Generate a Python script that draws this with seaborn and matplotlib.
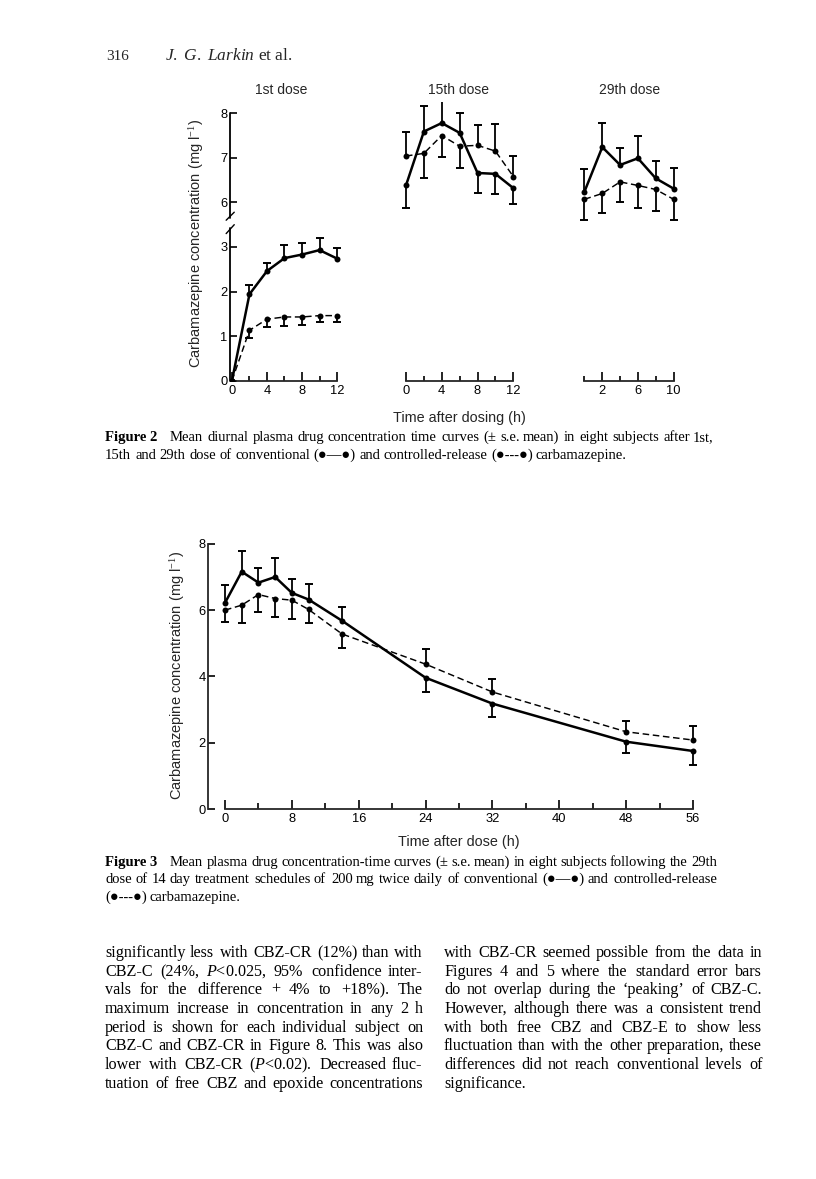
import numpy as np
import pandas as pd
import matplotlib
matplotlib.use("Agg")
import matplotlib.pyplot as plt
import matplotlib.transforms as mtransforms
import seaborn as sns

# ---------------- data (read from the scanned page) ----------------
# Figure 2, 1st dose
t_d1 = [0, 2, 4, 6, 8, 10, 12]
conv_d1 = [0.0, 1.94, 2.46, 2.75, 2.83, 2.93, 2.74]
conv_se_d1 = [0.0, 0.20, 0.19, 0.29, 0.25, 0.27, 0.24]
cr_d1 = [0.0, 1.13, 1.38, 1.43, 1.43, 1.46, 1.46]
cr_se_d1 = [0.0, 0.17, 0.17, 0.21, 0.18, 0.14, 0.15]

# Figure 2, 15th dose
t_d15 = [0, 2, 4, 6, 8, 10, 12]
conv_d15 = [6.38, 7.59, 7.78, 7.56, 6.66, 6.64, 6.32]
conv_se_d15 = [0.51, 0.57, 0.51, 0.45, 0.46, 0.46, 0.36]
cr_d15 = [7.04, 7.10, 7.50, 7.26, 7.28, 7.15, 6.58]
cr_se_d15 = [0.54, 0.55, 0.49, 0.49, 0.45, 0.61, 0.46]

# Figure 2, 29th dose
t_d29 = [0, 2, 4, 6, 8, 10]
conv_d29 = [6.24, 7.24, 6.84, 6.99, 6.54, 6.31]
conv_se_d29 = [0.52, 0.54, 0.39, 0.49, 0.39, 0.46]
cr_d29 = [6.07, 6.20, 6.46, 6.38, 6.29, 6.07]
cr_se_d29 = [0.46, 0.44, 0.46, 0.51, 0.48, 0.46]

# Figure 3, after 29th dose, 0-56 h
t_f3 = [0, 2, 4, 6, 8, 10, 14, 24, 32, 48, 56]
conv_f3 = [6.22, 7.16, 6.83, 7.00, 6.52, 6.32, 5.68, 3.96, 3.18, 2.03, 1.75]
conv_se_f3 = [0.53, 0.63, 0.43, 0.56, 0.43, 0.46, 0.42, 0.44, 0.40, 0.33, 0.42]
cr_f3 = [6.00, 6.15, 6.47, 6.35, 6.30, 6.02, 5.28, 4.37, 3.53, 2.33, 2.08]
cr_se_f3 = [0.37, 0.55, 0.54, 0.55, 0.57, 0.42, 0.41, 0.45, 0.39, 0.32, 0.42]

prep_names = ["Conventional", "Controlled-release"]

fig2_titles = ["1st dose", "15th dose", "29th dose"]
fig2_xticks_major = [[0, 4, 8, 12], [0, 4, 8, 12], [2, 6, 10]]
fig2_xticks_minor = [[2, 6, 10], [2, 6, 10], [0, 4, 8]]
fig2_yticks = [0, 1, 2, 3, 6, 7, 8]
fig3_xticks_major = [0, 8, 16, 24, 32, 40, 48, 56]
fig3_xticks_minor = [4, 12, 20, 28, 36, 44, 52]
fig3_yticks = [0, 2, 4, 6, 8]

ylabel = "Carbamazepine concentration (mg l$^{-1}$)"
xlabel2 = "Time after dosing (h)"
xlabel3 = "Time after dose (h)"

header_num = "316"
header_auth = r"$\mathit{J.\ G.\ Larkin}$ et al."

cap2_label = "Figure 2"
cap2 = ["Mean diurnal plasma drug concentration time curves (± s.e. mean) in eight subjects after 1st,",
        "15th and 29th dose of conventional (●—●) and controlled-release (●---●) carbamazepine."]
cap3_label = "Figure 3"
cap3 = ["Mean plasma drug concentration-time curves (± s.e. mean) in eight subjects following the 29th",
        "dose of 14 day treatment schedules of 200 mg twice daily of conventional (●—●) and controlled-release",
        "(●---●) carbamazepine."]
body_left = ["significantly less with CBZ-CR (12%) than with",
             r"CBZ-C (24%, $\mathit{P}$<0.025, 95% confidence inter-",
             "vals for the difference + 4% to +18%). The",
             "maximum increase in concentration in any 2 h",
             "period is shown for each individual subject on",
             "CBZ-C and CBZ-CR in Figure 8. This was also",
             r"lower with CBZ-CR ($\mathit{P}$<0.02). Decreased fluc-",
             "tuation of free CBZ and epoxide concentrations"]
body_right = ["with CBZ-CR seemed possible from the data in",
              "Figures 4 and 5 where the standard error bars",
              "do not overlap during the ‘peaking’ of CBZ-C.",
              "However, although there was a consistent trend",
              "with both free CBZ and CBZ-E to show less",
              "fluctuation than with the other preparation, these",
              "differences did not reach conventional levels of",
              "significance."]

# ---------------- style ----------------
sns.set_theme(style="ticks")
plt.rcParams["font.family"] = ["Liberation Sans", "DejaVu Sans"]
plt.rcParams["mathtext.fontset"] = "custom"
plt.rcParams["mathtext.rm"] = "Liberation Serif"
plt.rcParams["mathtext.it"] = "Liberation Serif:italic"
plt.rcParams["mathtext.bf"] = "Liberation Serif:bold"
plt.rcParams["mathtext.sf"] = "Liberation Sans"

W, H = 816, 1179
fig = plt.figure(figsize=(W / 100, H / 100), dpi=100)
fig.patch.set_facecolor("white")


def add_axes_px(left, right, top, bottom):
    return fig.add_axes([left / W, 1 - bottom / H, (right - left) / W, (bottom - top) / H])


# broken y scale: 0-3.5 linear, 5.6+ shifted down by 2
def fwd(y):
    y = np.asarray(y, dtype=float)
    return np.where(y <= 3.5, y, np.where(y >= 5.6, y - 2.0, 3.5 + (y - 3.5) * (0.1 / 2.1)))


def inv(z):
    z = np.asarray(z, dtype=float)
    return np.where(z <= 3.5, z, np.where(z >= 3.6, z + 2.0, 3.5 + (z - 3.5) * 21.0))


LW_SOLID = 1.8
LW_DASH = 1.05
MS = 4.3


def draw_series(ax, t, conv, conv_se, cr, cr_se):
    t = np.asarray(t, float)
    conv = np.asarray(conv, float)
    cr = np.asarray(cr, float)
    conv_se = np.asarray(conv_se, float)
    cr_se = np.asarray(cr_se, float)
    n = len(t)
    df = pd.DataFrame({
        "t": np.concatenate([t, t]),
        "c": np.concatenate([conv, cr]),
        "prep": [prep_names[0]] * n + [prep_names[1]] * n,
    })
    sns.lineplot(data=df, x="t", y="c", style="prep", size="prep",
                 sizes={prep_names[0]: LW_SOLID, prep_names[1]: LW_DASH},
                 dashes={prep_names[0]: "", prep_names[1]: (4.5, 2.5)},
                 markers={prep_names[0]: "o", prep_names[1]: "o"},
                 markersize=MS, markeredgewidth=0, color="black",
                 legend=False, ax=ax, zorder=3, sort=False, estimator=None)
    # one-sided s.e. bars, pointing away from the other preparation
    conv_dir = np.where(conv >= cr, 1.0, -1.0)
    cr_dir = -conv_dir
    for mean, se, d in ((conv, conv_se, conv_dir), (cr, cr_se, cr_dir)):
        m = se > 0
        tips = mean + d * se
        ax.vlines(t[m], mean[m], tips[m], color="black", lw=1.3, zorder=2)
        ax.plot(t[m], tips[m], ls="none", marker="_", ms=5.6, mew=1.4,
                color="black", zorder=2)


tick_kw = dict(direction="in", color="black", labelcolor="black", labelsize=9.3)
LABEL_FS = 10.5

# ---------------- Figure 2 ----------------
panels = [
    dict(left=230.2, right=345.8, xlim=(-0.2, 13), data=(t_d1, conv_d1, conv_se_d1, cr_d1, cr_se_d1),
         xb=(0, 12)),
    dict(left=401.5, right=517.8, xlim=(-0.5, 12.5), data=(t_d15, conv_d15, conv_se_d15, cr_d15, cr_se_d15),
         xb=(0, 12)),
    dict(left=580.0, right=678.0, xlim=(-0.5, 10.5), data=(t_d29, conv_d29, conv_se_d29, cr_d29, cr_se_d29),
         xb=(0, 10)),
]
TOP2, BOT2 = 102.1, 380.7
for i, p in enumerate(panels):
    ax = add_axes_px(p["left"], p["right"], TOP2, BOT2)
    ax.set_facecolor("none")
    ax.set_yscale("function", functions=(fwd, inv))
    draw_series(ax, *p["data"])
    ax.set_xlim(*p["xlim"])
    ax.set_ylim(0, 8.25)
    ax.set_xlabel("")
    ax.set_ylabel("")
    for s in ("top", "right", "left"):
        ax.spines[s].set_visible(False)
    ax.spines["bottom"].set_bounds(*p["xb"])
    ax.spines["bottom"].set_linewidth(1.3)
    ax.set_xticks(fig2_xticks_major[i])
    ax.set_xticks(fig2_xticks_minor[i], minor=True)
    ax.tick_params(axis="x", which="major", length=6.5, width=1.2, pad=3, **tick_kw)
    ax.tick_params(axis="x", which="minor", length=3.5, width=1.2, **tick_kw)
    ax.yaxis.set_minor_locator(matplotlib.ticker.NullLocator())
    if i == 0:
        ax.set_yticks(fig2_yticks)
        ax.set_yticklabels([str(v) for v in fig2_yticks])
        ax.tick_params(axis="y", which="major", length=5, width=1.2, pad=2, **tick_kw)
        # left axis drawn in two pieces with a break
        yt = ax.get_yaxis_transform()
        ax.plot([0, 0], [0, 3.42], color="black", lw=1.3, transform=yt, clip_on=False)
        ax.plot([0, 0], [5.66, 8.0], color="black", lw=1.3, transform=yt, clip_on=False)
        ax.plot([-0.035, 0.035], [3.30, 3.50], color="black", lw=1.0, transform=yt, clip_on=False)
        ax.plot([-0.035, 0.035], [5.60, 5.78], color="black", lw=1.0, transform=yt, clip_on=False)
    else:
        ax.set_yticks([])

for x, txt in zip([281, 459, 630], fig2_titles):
    fig.text(x / W, 1 - 90 / H, txt, ha="center", va="center", fontsize=10)

fig.text(197 / W, 1 - 243 / H, ylabel, rotation=90, ha="center", va="center", fontsize=LABEL_FS)
fig.text(459 / W, 1 - 418 / H, xlabel2, ha="center", va="center", fontsize=10.4)

# ---------------- Figure 3 ----------------
ax3 = add_axes_px(208.3, 701.4, 533.9, 809.0)
ax3.set_facecolor("none")
draw_series(ax3, t_f3, conv_f3, conv_se_f3, cr_f3, cr_se_f3)
ax3.set_xlim(-2, 57)
ax3.set_ylim(0, 8.3)
ax3.set_xlabel("")
ax3.set_ylabel("")
for s in ("top", "right"):
    ax3.spines[s].set_visible(False)
ax3.spines["bottom"].set_bounds(0, 56)
ax3.spines["left"].set_bounds(0, 8)
ax3.spines["bottom"].set_linewidth(1.3)
ax3.spines["left"].set_linewidth(1.3)
ax3.set_xticks(fig3_xticks_major)
ax3.set_xticks(fig3_xticks_minor, minor=True)
ax3.set_yticks(fig3_yticks)
ax3.tick_params(axis="x", which="major", length=6.5, width=1.2, pad=3, **tick_kw)
ax3.tick_params(axis="x", which="minor", length=4.0, width=1.2, **tick_kw)
ax3.tick_params(axis="y", which="major", length=5, width=1.2, pad=2, **tick_kw)

fig.text(178 / W, 1 - 675 / H, ylabel, rotation=90, ha="center", va="center", fontsize=LABEL_FS)
fig.text(459 / W, 1 - 842 / H, xlabel3, ha="center", va="center", fontsize=10.4)

# ---------------- page text ----------------
renderer = fig.canvas.get_renderer()
SERIF = ["Liberation Serif", "DejaVu Sans"]
ident = mtransforms.IdentityTransform()


def make_word(w, size, weight="normal"):
    t = fig.text(0, 0, w, fontsize=size, family=SERIF, transform=ident,
                 ha="left", va="baseline", color="black", fontweight=weight)
    return t, t.get_window_extent(renderer).width


def place_line(line, x0, x1, y_base, size, justify, label=None):
    yd = round(H - y_base)
    x = x0
    if label is not None:
        t, wdt = make_word(label, size, "bold")
        t.set_position((x, yd))
        x += wdt + 0.9 * size * 100 / 72
    words = [w for w in line.split(" ") if w != ""]
    pairs = [make_word(w, size) for w in words]
    total = sum(p[1] for p in pairs)
    space = 0.25 * size * 100 / 72
    if justify and len(words) > 1:
        gap = (x1 - x - total) / (len(words) - 1)
    else:
        gap = space
    for t, wdt in pairs:
        t.set_position((round(x), yd))
        x += wdt + gap


def place_block(lines, x0, x1, y0, lead, size, last_justified=False, label=None):
    for k, ln in enumerate(lines):
        just = (k < len(lines) - 1) or last_justified
        place_line(ln, x0, x1, y0 + k * lead, size, just, label if k == 0 else None)


fig.text(106, H - 60, header_num, transform=ident, fontsize=11, family=SERIF, va="baseline")
fig.text(165, H - 60, header_auth, transform=ident, fontsize=12.5, family=SERIF, va="baseline")

place_block(cap2, 105, 714, 441, 18, 10.5, label=cap2_label)
place_block(cap3, 105, 717, 866, 17.5, 10.5, label=cap3_label)
place_block(body_left, 105, 423, 957, 18.65, 11.6, last_justified=True)
place_block(body_right, 444, 762, 957, 18.65, 11.6)

fig.savefig("out.png", dpi=100, facecolor="white")
